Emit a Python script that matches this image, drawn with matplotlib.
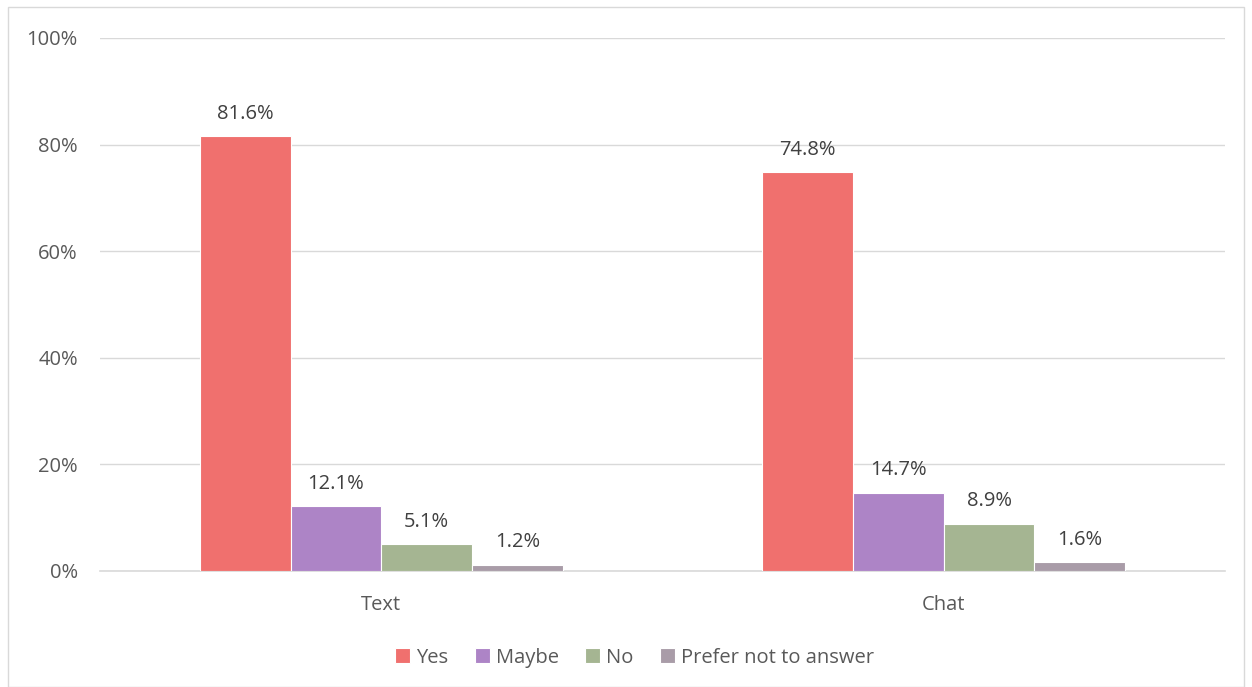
import numpy as np
import matplotlib.pyplot as plt
from matplotlib.patches import Rectangle
from matplotlib.ticker import FuncFormatter

categories = ["Text", "Chat"]
series = ["Yes", "Maybe", "No", "Prefer not to answer"]
yes = [81.6, 74.8]
maybe = [12.1, 14.7]
no = [5.1, 8.9]
prefer_not = [1.2, 1.6]
colors = ["#F0706E", "#AD84C6", "#A5B592", "#A99CA8"]

plt.rcParams['font.family'] = ['Open Sans', 'DejaVu Sans']
text_col = "#595959"
fs = 14.5

fig = plt.figure(figsize=(12.52, 6.87), dpi=100)
fig.patches.append(Rectangle((0.006, 0.0), 0.988, 0.99, transform=fig.transFigure,
                             fill=False, edgecolor="#D9D9D9", linewidth=1))
ax = fig.add_axes([0.0799, 0.1689, 0.8985, 0.7758])

x = np.arange(len(categories))
width = 0.1613
data = [yes, maybe, no, prefer_not]
for i, (vals, name, c) in enumerate(zip(data, series, colors)):
    pos = x + (i - 1.5) * width
    bars = ax.bar(pos, vals, width, color=c, edgecolor="white", linewidth=0.8,
                  label=name, zorder=3)
    for b, v in zip(bars, vals):
        ax.text(b.get_x() + b.get_width() / 2, v + 2.3, f"{v:.1f}%",
                ha="center", va="bottom", fontsize=fs, color="#404040")

ax.set_xlim(-0.5, 1.5)
ax.set_ylim(0, 100)
ax.set_yticks(np.arange(0, 101, 20))
ax.yaxis.set_major_formatter(FuncFormatter(lambda v, p: f"{v:.0f}%"))
ax.grid(axis="y", color="#D9D9D9", linewidth=1, zorder=0)
ax.set_xticks(x)
ax.set_xticklabels(categories)
for s in ["top", "right", "left"]:
    ax.spines[s].set_visible(False)
ax.spines["bottom"].set_color("#D9D9D9")
ax.spines["bottom"].set_linewidth(1.2)
ax.tick_params(axis="both", length=0, labelsize=fs, colors=text_col)
ax.tick_params(axis="y", pad=16)
ax.tick_params(axis="x", pad=17)

leg = ax.legend(loc="upper center", bbox_to_anchor=(0.475, -0.11), ncol=4,
                frameon=False, fontsize=fs, handlelength=0.75, handleheight=0.75,
                handletextpad=0.3, columnspacing=1.3)
for t in leg.get_texts():
    t.set_color(text_col)

fig.savefig("out.png", dpi=100)
